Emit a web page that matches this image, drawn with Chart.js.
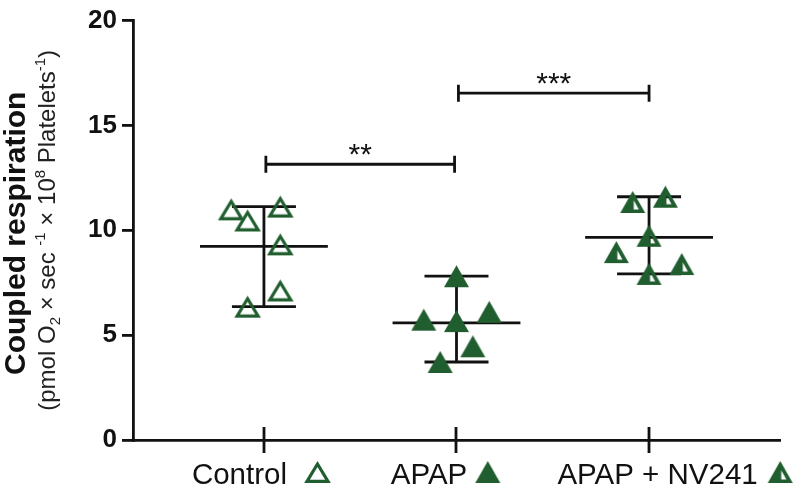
<!DOCTYPE html>
<html>
<head>
<meta charset="utf-8">
<title>Coupled respiration</title>
<script src="https://cdn.jsdelivr.net/npm/chart.js@4.4.1/dist/chart.umd.min.js"></script>
<style>
  html, body { margin: 0; padding: 0; background: #fff; }
  #wrap { width: 800px; height: 488px; }
</style>
</head>
<body>
<div id="wrap"><canvas id="chart" width="800" height="488"></canvas></div>
<script>
// Data
const categories = ['Control', 'APAP', 'APAP + NV241'];
const controlValues = [11.0, 10.47, 11.13, 9.33, 7.13, 6.36];
const apapValues = [7.81, 5.74, 5.67, 6.11, 4.47, 3.72];
const nv241Values = [11.35, 11.6, 9.74, 8.96, 8.39, 7.92];
// horizontal scatter of the points, in jitter steps
const controlJitter = [-2, -1, 1, 1, 1, -1];
const apapJitter = [0, -2, 0, 2, 1, -1];
const nv241Jitter = [-1, 1, 0, -2, 2, 0];
const yTicks = [0, 5, 10, 15, 20];
// significance brackets
const bracketFrom = [1.01, 2.01];
const bracketTo = [1.99, 3.0];
const bracketHeights = [13.15, 16.54];
const bracketStars = ['**', '***'];

const GREEN = '#215e2f';
const INK = '#111';
const FONT = '"Liberation Sans", Arial, Helvetica, sans-serif';
const jitterStep = 0.085;
const meanHalf = 0.332;

// Triangle markers drawn on small canvases
function makeTriangle(kind) {
    const w = 25, h = 22, pad = 2;
    const c = document.createElement('canvas');
    c.width = w + pad * 2;
    c.height = h + pad * 2;
    const ctx = c.getContext('2d');
    ctx.fillStyle = GREEN;
    ctx.strokeStyle = GREEN;
    if (kind === 'hollow') {
        ctx.lineWidth = 3.2;
        ctx.lineJoin = 'miter';
        ctx.beginPath();
        ctx.moveTo(pad + w / 2, pad + 3);
        ctx.lineTo(pad + 2, pad + h - 1.6);
        ctx.lineTo(pad + w - 2, pad + h - 1.6);
        ctx.closePath();
        ctx.stroke();
    } else if (kind === 'filled') {
        ctx.beginPath();
        ctx.moveTo(pad + w / 2, pad);
        ctx.lineTo(pad, pad + h);
        ctx.lineTo(pad + w, pad + h);
        ctx.closePath();
        ctx.fill();
    } else {
        // half filled: left part solid, small open right triangle inside
        ctx.beginPath();
        ctx.moveTo(pad + w / 2, pad);
        ctx.lineTo(pad, pad + h);
        ctx.lineTo(pad + w, pad + h);
        ctx.closePath();
        ctx.moveTo(pad + 13.5, pad + 9.2);
        ctx.lineTo(pad + 18.6, pad + 18.5);
        ctx.lineTo(pad + 13.5, pad + 18.5);
        ctx.closePath();
        ctx.fill('evenodd');
    }
    return c;
}

const markers = [makeTriangle('hollow'), makeTriangle('filled'), makeTriangle('half')];
const groups = [
    { values: controlValues, jitter: controlJitter },
    { values: apapValues, jitter: apapJitter },
    { values: nv241Values, jitter: nv241Jitter }
];

const datasets = [];

groups.forEach((g, i) => {
    const pos = i + 1;
    datasets.push({
        label: categories[i],
        data: g.values.map((v, k) => ({ x: pos + g.jitter[k] * jitterStep, y: v })),
        pointStyle: markers[i],
        pointRadius: 12,
        showLine: false,
        order: 0
    });
});

groups.forEach((g, i) => {
    const pos = i + 1;
    const mean = g.values.reduce((a, b) => a + b, 0) / g.values.length;
    const lo = Math.min(...g.values);
    const hi = Math.max(...g.values);
    // mean line
    datasets.push({
        data: [{ x: pos - meanHalf, y: mean }, { x: pos + meanHalf, y: mean }],
        showLine: true,
        borderColor: INK,
        borderWidth: 2.8,
        pointRadius: 0,
        order: 1
    });
    // range bar with caps
    datasets.push({
        data: [{ x: pos, y: lo }, { x: pos, y: hi }],
        showLine: true,
        borderColor: INK,
        borderWidth: 2.8,
        pointStyle: 'line',
        pointRadius: 32,
        pointBorderColor: INK,
        pointBackgroundColor: INK,
        pointBorderWidth: 2.8,
        order: 1
    });
});

bracketHeights.forEach((h, i) => {
    datasets.push({
        data: [{ x: bracketFrom[i], y: h }, { x: bracketTo[i], y: h }],
        showLine: true,
        borderColor: INK,
        borderWidth: 2.8,
        pointStyle: 'line',
        pointRotation: 90,
        pointRadius: 8.5,
        pointBorderColor: INK,
        pointBackgroundColor: INK,
        pointBorderWidth: 2.8,
        order: 1
    });
});

// x ticks crossing the axis, x labels with markers, stars, y title
const labelShift = [-3, -11, 26];
const labelGap = [18, 8, 10];

const extras = {
    id: 'extras',
    afterDraw(chart) {
        const ctx = chart.ctx;
        const xs = chart.scales.x;
        const ys = chart.scales.y;
        const y0 = ys.getPixelForValue(0);
        ctx.save();

        ctx.strokeStyle = INK;
        ctx.lineWidth = 2.8;
        categories.forEach((c, i) => {
            const px = Math.round(xs.getPixelForValue(i + 1));
            ctx.beginPath();
            ctx.moveTo(px, y0 - 13);
            ctx.lineTo(px, y0 + 13);
            ctx.stroke();
        });

        ctx.fillStyle = INK;
        ctx.font = '29.5px ' + FONT;
        ctx.textAlign = 'left';
        ctx.textBaseline = 'alphabetic';
        categories.forEach((c, i) => {
            const px = xs.getPixelForValue(i + 1);
            const tw = ctx.measureText(c).width;
            const total = tw + labelGap[i] + 25;
            const start = px + labelShift[i] - total / 2;
            ctx.fillText(c, start, 484);
            ctx.drawImage(markers[i], start + tw + labelGap[i] - 2, 461 - 2);
        });

        ctx.font = '30px ' + FONT;
        ctx.textAlign = 'center';
        bracketStars.forEach((s, i) => {
            const m = ctx.measureText(s);
            const cx = xs.getPixelForValue((bracketFrom[i] + bracketTo[i]) / 2);
            const cy = ys.getPixelForValue(bracketHeights[i]) - 15;
            const base = cy + (m.actualBoundingBoxAscent - m.actualBoundingBoxDescent) / 2;
            ctx.fillText(s, cx, base);
        });

        drawYTitle(ctx, (ys.top + ys.bottom) / 2 + 3);
        ctx.restore();
    }
};

function drawYTitle(ctx, cy) {
    ctx.save();
    ctx.translate(17, cy);
    ctx.rotate(-Math.PI / 2);
    ctx.font = 'bold 30px ' + FONT;
    ctx.textAlign = 'center';
    ctx.textBaseline = 'middle';
    ctx.fillStyle = INK;
    ctx.fillText('Coupled respiration', 0, 0);
    ctx.restore();

    // unit line with sub- and superscripts
    const parts = [
        ['(pmol O', 0], ['2', 1], [' \u00d7 sec ', 0], ['-1', -1],
        [' \u00d7 10', 0], ['8', -1], [' Platelets', 0], ['-1', -1], [')', 0]
    ];
    const big = '24px ' + FONT;
    const small = '15px ' + FONT;
    ctx.save();
    ctx.translate(55, cy - 3);
    ctx.rotate(-Math.PI / 2);
    ctx.fillStyle = '#222';
    ctx.textAlign = 'left';
    ctx.textBaseline = 'alphabetic';
    let total = 0;
    parts.forEach(p => {
        ctx.font = p[1] === 0 ? big : small;
        total += ctx.measureText(p[0]).width;
    });
    let x = -total / 2;
    parts.forEach(p => {
        ctx.font = p[1] === 0 ? big : small;
        const dy = p[1] === 1 ? 5 : (p[1] === -1 ? -10 : 0);
        ctx.fillText(p[0], x, dy);
        x += ctx.measureText(p[0]).width;
    });
    ctx.restore();
}

new Chart(document.getElementById('chart'), {
    type: 'scatter',
    data: { datasets: datasets },
    options: {
        responsive: false,
        animation: false,
        layout: { padding: { left: 0, right: 20, top: 10, bottom: 0 }, autoPadding: false },
        plugins: {
            legend: { display: false },
            tooltip: { enabled: false }
        },
        scales: {
            x: {
                type: 'linear',
                min: 0.32,
                max: 3.68,
                afterBuildTicks: function(scale) {
                    scale.ticks = categories.map((c, i) => ({ value: i + 1 }));
                },
                ticks: { display: false },
                grid: { display: false },
                border: { display: true, color: INK, width: 2.8 },
                afterFit: function(scale) { scale.height = 48; }
            },
            y: {
                min: 0,
                max: 20,
                afterBuildTicks: function(scale) {
                    scale.ticks = yTicks.map(v => ({ value: v }));
                },
                ticks: {
                    font: { family: FONT, weight: 'bold', size: 26 },
                    color: INK,
                    padding: 5
                },
                grid: { drawOnChartArea: false, drawTicks: true, tickLength: 11, color: INK, lineWidth: 2.8 },
                border: { display: true, color: INK, width: 2.8 },
                afterFit: function(scale) { scale.width = 133; }
            }
        }
    },
    plugins: [extras]
});
</script>
</body>
</html>
